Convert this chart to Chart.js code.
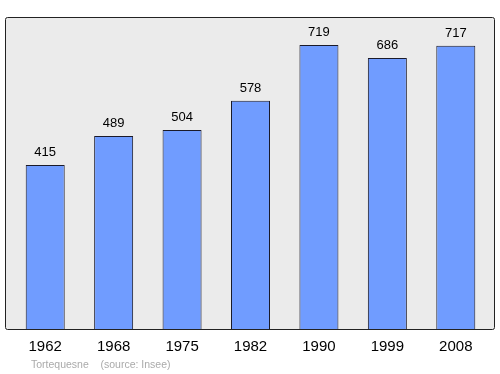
<!DOCTYPE html>
<html>
<head>
<meta charset="utf-8">
<script src="https://cdn.jsdelivr.net/npm/chart.js@4"></script>
<style>
  html, body { margin: 0; padding: 0; background: #fff; }
  #wrap { width: 500px; height: 374px; position: relative; }
</style>
</head>
<body>
<div id="wrap"><canvas id="chart"></canvas></div>
<script>
// population data
var years = ['1962', '1968', '1975', '1982', '1990', '1999', '2008'];
var population = [415, 489, 504, 578, 719, 686, 717];
var sourceText = 'Tortequesne    (source: Insee)';

var framePlugin = {
  id: 'frame',
  beforeDraw: function(chart) {
    var ctx = chart.ctx;
    ctx.save();
    ctx.fillStyle = '#ebebeb';
    ctx.strokeStyle = '#222';
    ctx.lineWidth = 1;
    ctx.beginPath();
    ctx.roundRect(5.5, 17.5, 489, 312, 2);
    ctx.fill();
    ctx.stroke();
    ctx.restore();
  },
  afterDatasetsDraw: function(chart) {
    var ctx = chart.ctx;
    var meta = chart.getDatasetMeta(0);
    ctx.save();
    ctx.fillStyle = '#000';
    ctx.textAlign = 'center';
    ctx.font = '13px "Liberation Sans", Arial, sans-serif';
    ctx.textBaseline = 'alphabetic';
    meta.data.forEach(function(bar, i) {
      ctx.fillText(String(population[i]), bar.x, bar.y - 9);
    });
    ctx.font = '15px "Liberation Sans", Arial, sans-serif';
    ctx.textBaseline = 'middle';
    meta.data.forEach(function(bar, i) {
      ctx.fillText(years[i], bar.x, 347);
    });
    ctx.textAlign = 'left';
    ctx.fillStyle = '#aaa';
    ctx.font = '10.5px "Liberation Sans", Arial, sans-serif';
    ctx.fillText(sourceText, 31, 365.5);
    ctx.restore();
  }
};

new Chart(document.getElementById('chart'), {
  type: 'bar',
  data: {
    labels: years,
    datasets: [{
      data: population,
      backgroundColor: '#709cff',
      borderColor: '#1a1a2a',
      borderWidth: 1,
      borderSkipped: 'bottom',
      barPercentage: 0.57,
      categoryPercentage: 1
    }]
  },
  options: {
    responsive: true,
    maintainAspectRatio: false,
    animation: false,
    layout: { padding: { left: 11, right: 10, top: 17, bottom: 45 } },
    plugins: { legend: { display: false }, tooltip: { enabled: false } },
    scales: {
      x: { display: false },
      y: { display: false, min: 0, max: 790 }
    }
  },
  plugins: [framePlugin]
});
</script>
</body>
</html>
